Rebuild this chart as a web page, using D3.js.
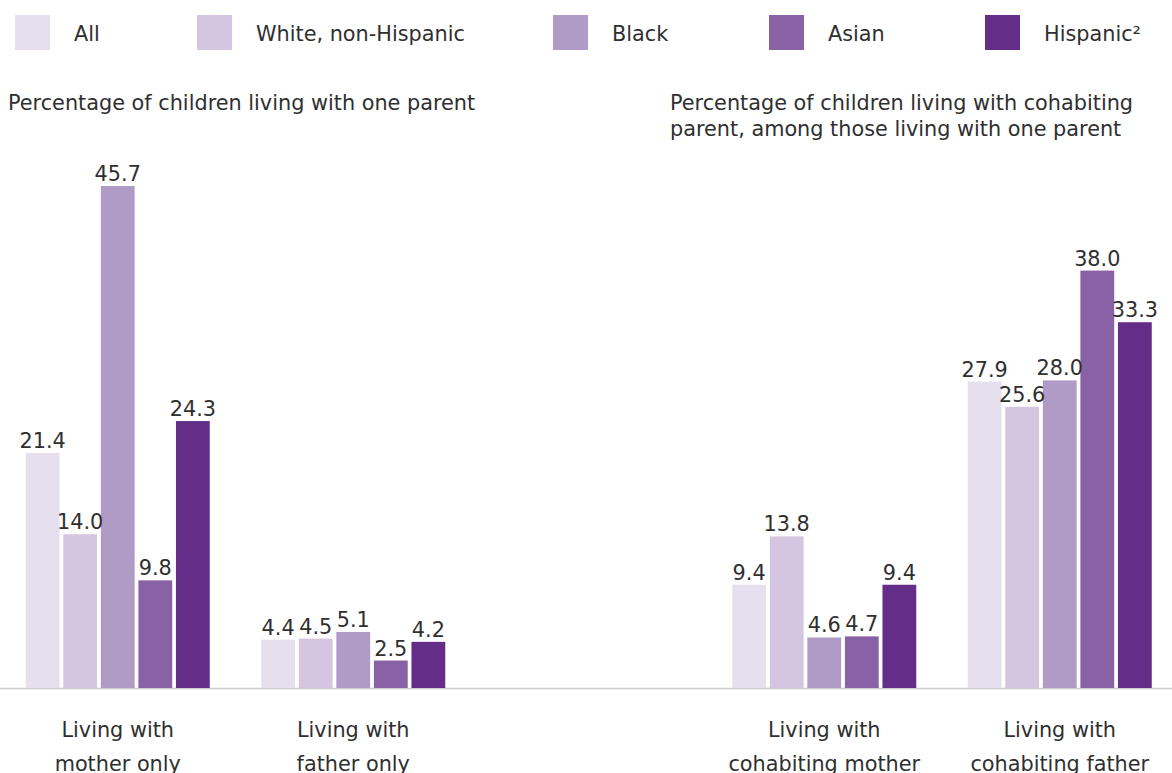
<!DOCTYPE html>
<html><head><meta charset="utf-8">
<script src="https://cdn.jsdelivr.net/npm/d3@7"></script>
<style>
html,body{margin:0;padding:0;background:#fff;}
svg{display:block;}
text{font-family:"DejaVu Sans", sans-serif;fill:#2f2f2f;}
</style></head>
<body>
<svg id="chart" width="1172" height="773"></svg>
<script>
const groups = ["Living with|mother only", "Living with|father only", "", "Living with|cohabiting mother", "Living with|cohabiting father"];
const series = ["All", "White, non-Hispanic", "Black", "Asian", "Hispanic²"];
const colors = ["#e6e0ee", "#d4c6e0", "#b09ac6", "#8862a4", "#632d88"];
const motherOnly = [21.4, 14.0, 45.7, 9.8, 24.3];
const fatherOnly = [4.4, 4.5, 5.1, 2.5, 4.2];
const cohabMother = [9.4, 13.8, 4.6, 4.7, 9.4];
const cohabFather = [27.9, 25.6, 28.0, 38.0, 33.3];
const titles = [["Percentage of children living with one parent"], ["Percentage of children living with cohabiting", "parent, among those living with one parent"]];

const table = [
  {g: groups[0], vals: motherOnly},
  {g: groups[1], vals: fatherOnly},
  {g: groups[3], vals: cohabMother},
  {g: groups[4], vals: cohabFather}
];

const FS = 20.8;
const svg = d3.select("#chart");
const x = d3.scaleBand().domain(groups).range([0, 1177.5]).padding(0);
const y = d3.scaleLinear().domain([0, 45.7]).range([688, 186]);
const inner = d3.scaleBand().domain(series).range([-92, 92]).paddingInner(0.1).paddingOuter(0);

// baseline
svg.append("line").attr("x1", 0).attr("x2", 1172).attr("y1", y(0) + 0.5).attr("y2", y(0) + 0.5)
  .attr("stroke", "#cccccc").attr("stroke-width", 1.5);

const g = svg.selectAll("g.grp").data(table).join("g").attr("class", "grp")
  .attr("transform", d => `translate(${x(d.g) + x.bandwidth() / 2},0)`);

g.selectAll("rect").data(d => d.vals.map((v, i) => ({v, s: series[i], i})))
  .join("rect")
  .attr("x", d => inner(d.s)).attr("width", inner.bandwidth())
  .attr("y", d => y(d.v)).attr("height", d => y(0) - y(d.v))
  .attr("fill", d => colors[d.i]);

g.selectAll("text.val").data(d => d.vals.map((v, i) => ({v, s: series[i]})))
  .join("text").attr("class", "val")
  .attr("x", d => inner(d.s) + inner.bandwidth() / 2)
  .attr("y", d => y(d.v) - 5)
  .attr("text-anchor", "middle").attr("font-size", FS)
  .text(d => d.v.toFixed(1));

g.each(function(d) {
  const lines = d.g.split("|");
  const t = d3.select(this).append("text").attr("text-anchor", "middle").attr("font-size", FS);
  lines.forEach((l, i) => t.append("tspan").attr("x", 0).attr("y", 737 + i * 34).text(l));
});

// titles
const titleX = [8, 670];
titles.forEach((lines, k) => {
  const t = svg.append("text").attr("font-size", FS);
  lines.forEach((l, i) => t.append("tspan").attr("x", titleX[k]).attr("y", 110 + i * 26).text(l));
});

// legend
const legX = [15, 197, 553, 769, 985];
const leg = svg.selectAll("g.leg").data(series).join("g").attr("class", "leg")
  .attr("transform", (d, i) => `translate(${legX[i]},15)`);
leg.append("rect").attr("width", 35).attr("height", 35).attr("fill", (d, i) => colors[i]);
leg.append("text").attr("x", 59).attr("y", 25.5).attr("font-size", FS).text(d => d);
</script>
</body></html>
